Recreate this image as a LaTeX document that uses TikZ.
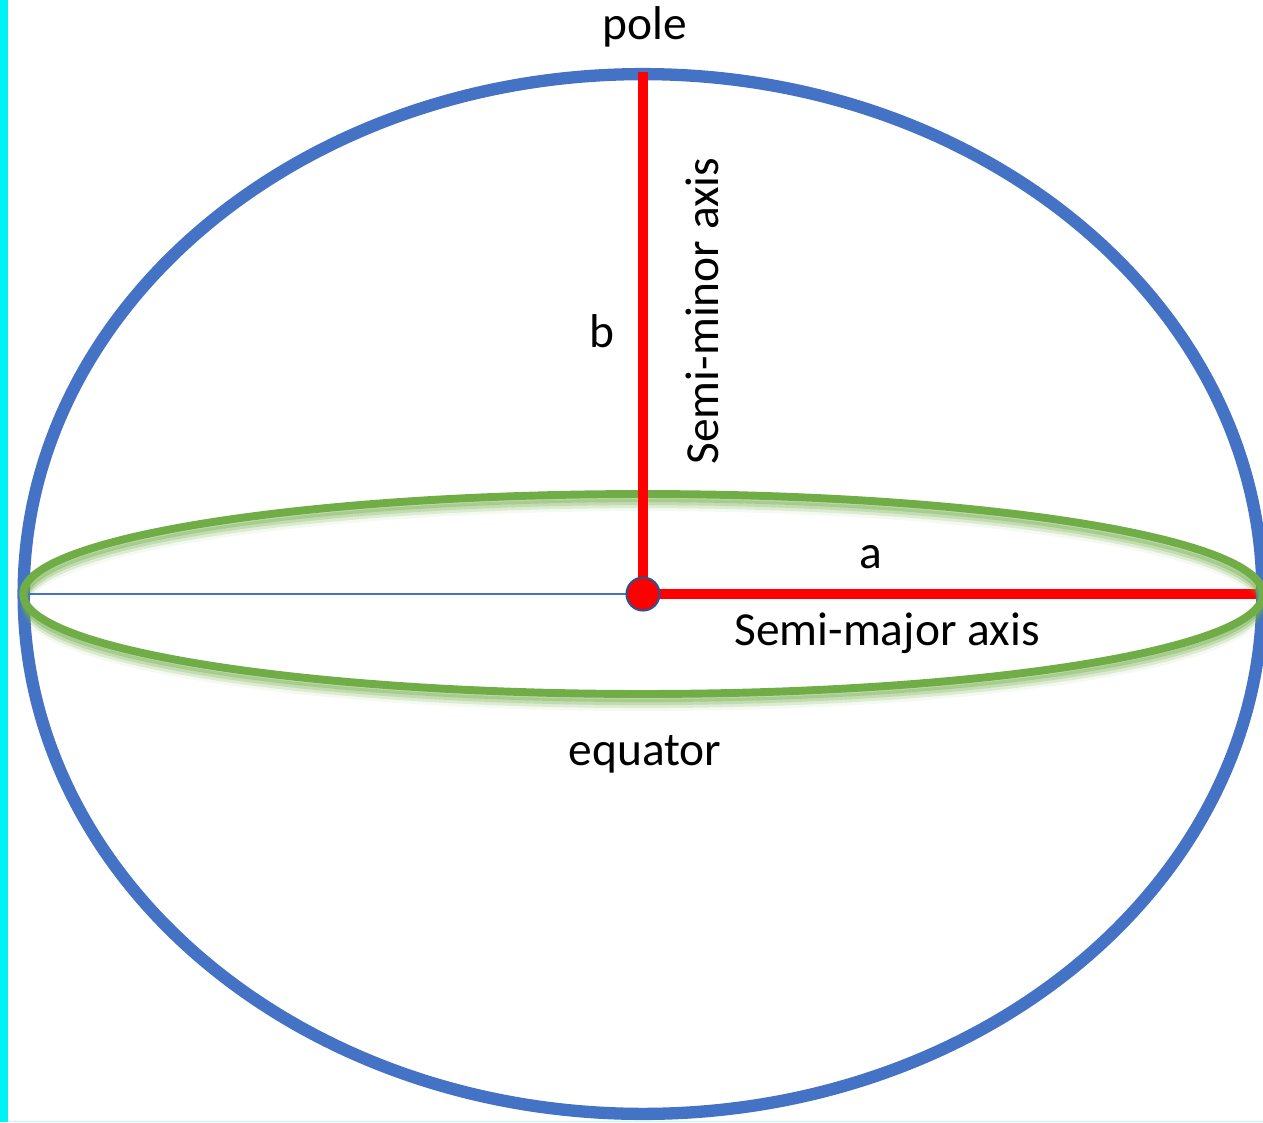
\documentclass[tikz,border=0pt]{standalone}
\usepackage{fontspec}
\setmainfont{Carlito}
\usepackage{xcolor}
\definecolor{sky}{HTML}{4472C4}
\definecolor{navy}{HTML}{2F528F}
\definecolor{leaf}{HTML}{70AD47}
\definecolor{signal}{HTML}{FF0000}
\definecolor{aqua}{HTML}{00F2F6}
\tikzset{
    label text/.style={font=\fontsize{27}{32}\selectfont, anchor=base, inner sep=0pt},
}

\begin{document}
\begin{tikzpicture}[x=0.02cm, y=-0.02cm]
    \useasboundingbox (0,0) rectangle (1263,1122);
    % Frame
    \fill[aqua] (0,0) rectangle (8,1122);
    \draw[aqua!25, line width=0.5pt] (8,1121.5) -- (1263,1121.5);

    % Points
    \coordinate (O) at (643,594);
    \coordinate (P) at (643,72);
    \coordinate (E) at (1256,594);
    \coordinate (W) at (28,594);

    % Meridian ellipse
    \draw[sky, line width=7pt] (O) ellipse [x radius=12.39cm, y radius=10.4cm];

    % Semi-major axis
    \draw[signal, line width=6pt] (O) -- (E);

    % Equator with its glow
    \foreach \d/\o in {5/0.45, 8/0.3, 11/0.18, 14/0.08}
        \draw[leaf, opacity=\o, line width=3.5pt] ([yshift=-\d*0.02cm]O) ellipse [x radius=12.38cm, y radius=2cm];
    \draw[leaf, line width=4.5pt] (O) ellipse [x radius=12.4cm, y radius=2cm];

    % Semi-minor axis
    \draw[signal, line width=6pt] (O) -- (P);

    % Diameter
    \draw[sky, line width=0.6pt] (W) -- (O);

    % Centre
    \node[circle, fill=signal, draw=navy, line width=1.2pt, minimum size=0.66cm, inner sep=0pt] (centre) at (O) {};

    % Labels
    \node[label text] (pole) at (645,40) {pole};
    \node[label text] (b) at (602,347) {b};
    \node[label text, rotate=90] (minor) at (718,311) {Semi-minor axis};
    \node[label text] (a) at (871,568) {a};
    \node[label text] (major) at (887,645) {Semi-major axis};
    \node[label text] (equator) at (645,765) {equator};
\end{tikzpicture}
\end{document}
